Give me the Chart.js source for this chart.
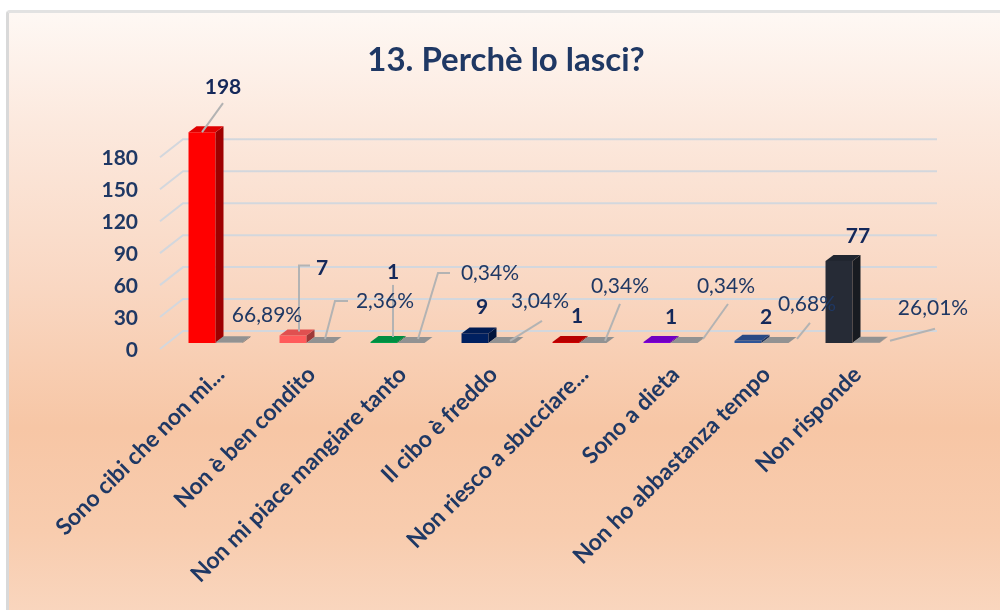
<!DOCTYPE html>
<html><head><meta charset="utf-8">
<script src="https://cdn.jsdelivr.net/npm/chart.js@4.4.1/dist/chart.umd.min.js"></script>
<style>
html,body{margin:0;padding:0;background:#fff;width:1000px;height:610px;overflow:hidden;}
#frame{position:absolute;left:6px;top:10px;width:1000px;height:610px;border-left:3px solid #d9d9d9;border-top:3px solid #e2e2e2;border-top-left-radius:4px;
background:linear-gradient(to bottom,#fef8f4 0%,#fce9de 18%,#f9d7c2 45%,#f7c6a5 68%,#f8ccae 85%,#f9d7c0 100%);}
canvas{position:absolute;left:0;top:0;}
</style></head><body>
<div id="frame"></div>
<canvas id="c" width="1000" height="610"></canvas>
<script>
// ---- data ----
const categories = ["Sono cibi che non mi...", "Non è ben condito", "Non mi piace mangiare tanto", "Il cibo è freddo", "Non riesco a sbucciare...", "Sono a dieta", "Non ho abbastanza tempo", "Non risponde"];
const counts = [198, 7, 1, 9, 1, 1, 2, 77];
const percents = [66.89, 2.36, 0.34, 3.04, 0.34, 0.34, 0.68, 26.01];
const yTicks = [0, 30, 60, 90, 120, 150, 180];
const chartTitle = "13. Perchè lo lasci?";

// ---- style ----
const barColors = ['#ff0000', '#ff5b5b', '#00a04a', '#002060', '#d00000', '#8000dc', '#2f5597', '#262b36'];
const percentColor = '#a6a6a6';
const navy = '#1f3864';
const DX = 8, DY = -6;
// label placement relative to bar top-face anchor: [dx, dy], leader polyline points
const countLabelPos = [
  {d:[17,-42], l:[[-4,3],[17,-26]]},
  {d:[25,-64], l:[[2,-1],[2,-67],[13,-67]]},
  {d:[5,-67],  l:[[5,-2],[5,-54]]},
  {d:[3,-23],  l:null},
  {d:[7,-23],  l:null},
  {d:[10,-22], l:null},
  {d:[14,-21], l:null},
  {d:[15,-22], l:null}
];
const pctLabelPos = [
  {d:[34,-24], l:null},
  {d:[61,-39], l:[[1,-1],[11,-39],[24,-39]]},
  {d:[75,-67], l:[[3,-1],[23,-67],[35,-67]]},
  {d:[34,-39], l:[[4,1],[36,-19]]},
  {d:[23,-54], l:[[8,1],[23,-36]]},
  {d:[38,-54], l:[[15,-1],[40,-36]]},
  {d:[28,-36], l:[[18,-1],[31,-17]]},
  {d:[63,-31], l:[[20,1],[65,-11]]}
];

function shade(hex, f){
  const n = parseInt(hex.slice(1),16);
  const r = n>>16, g = (n>>8)&255, b = n&255;
  return 'rgb(' + Math.round(r*f) + ',' + Math.round(g*f) + ',' + Math.round(b*f) + ')';
}

const titlePlugin = {
  id:'titleText',
  afterDraw(chart){
    const ctx = chart.ctx;
    ctx.save();
    ctx.font = 'bold 33px Lato';
    ctx.fillStyle = navy;
    ctx.textAlign = 'center';
    ctx.textBaseline = 'middle';
    ctx.fillText(chartTitle, 506, 60);
    ctx.restore();
  }
};

const wall = {
  id:'wall',
  beforeDatasetsDraw(chart){
    const {ctx, chartArea:{left,right}, scales:{y}} = chart;
    ctx.save();
    ctx.strokeStyle = '#d3d7dd';
    ctx.lineWidth = 2;
    yTicks.forEach(v => {
      const py = y.getPixelForValue(v);
      ctx.beginPath();
      ctx.moveTo(left-10, py+6);
      ctx.lineTo(left+13, py-12);
      ctx.lineTo(right+39, py-12);
      ctx.stroke();
    });
    ctx.restore();
  }
};

const bars3d = {
  id:'bars3d',
  afterDatasetsDraw(chart){
    const ctx = chart.ctx;
    chart.data.datasets.forEach((ds, di) => {
      const meta = chart.getDatasetMeta(di);
      meta.data.forEach((el, i) => {
        const {x, y, base, width} = el.getProps(['x','y','base','width'], true);
        const l = x - width/2, r = x + width/2;
        const col = Array.isArray(ds.backgroundColor) ? ds.backgroundColor[i] : ds.backgroundColor;
        ctx.save();
        ctx.fillStyle = shade(col, 0.62);
        ctx.beginPath();
        ctx.moveTo(r, y); ctx.lineTo(r+DX, y+DY); ctx.lineTo(r+DX, base+DY); ctx.lineTo(r, base);
        ctx.closePath(); ctx.fill();
        ctx.fillStyle = shade(col, 0.88);
        ctx.beginPath();
        ctx.moveTo(l, y); ctx.lineTo(r, y); ctx.lineTo(r+DX, y+DY); ctx.lineTo(l+DX, y+DY);
        ctx.closePath(); ctx.fill();
        ctx.restore();
      });
    });
  }
};

const valueLabels = {
  id:'valueLabels',
  afterDatasetsDraw(chart){
    const ctx = chart.ctx;
    const sets = [
      {di:0, pos:countLabelPos, font:'bold 21px Lato', color:'#14285a', text:i => String(counts[i])},
      {di:1, pos:pctLabelPos, font:'21px Lato', color:navy, text:i => percents[i].toFixed(2).replace('.', ',') + '%'}
    ];
    sets.forEach(s => {
      const meta = chart.getDatasetMeta(s.di);
      meta.data.forEach((el, i) => {
        const ax = el.x + DX/2, ay = el.y + DY/2;
        const p = s.pos[i];
        ctx.save();
        if (p.l){
          ctx.strokeStyle = '#b3b3b3';
          ctx.lineWidth = 2;
          ctx.beginPath();
          p.l.forEach((pt, k) => { if (k===0) ctx.moveTo(ax+pt[0], ay+pt[1]); else ctx.lineTo(ax+pt[0], ay+pt[1]); });
          ctx.stroke();
        }
        ctx.font = s.font;
        ctx.fillStyle = s.color;
        ctx.textAlign = 'center';
        ctx.textBaseline = 'middle';
        ctx.fillText(s.text(i), ax + p.d[0], ay + p.d[1]);
        ctx.restore();
      });
    });
  }
};

new Chart(document.getElementById('c'), {
  type:'bar',
  data:{
    labels: categories,
    datasets:[
      {label:'Risposte', data:counts, backgroundColor:barColors, borderWidth:0, categoryPercentage:0.593, barPercentage:1},
      {label:'Percentuale', data:percents.map(p => p/100), backgroundColor:percentColor, borderWidth:0, categoryPercentage:0.593, barPercentage:1}
    ]
  },
  options:{
    responsive:false,
    animation:false,
    devicePixelRatio:1,
    layout:{padding:{left:0, right:102, top:130, bottom:0}},
    plugins:{
      legend:{display:false},
      tooltip:{enabled:false},
      title:{display:false}
    },
    scales:{
      x:{
        grid:{display:false, drawTicks:false},
        border:{display:false},
        ticks:{autoSkip:false, minRotation:45, maxRotation:45, padding:18, labelOffset:5, color:navy, font:{family:'Lato', weight:'bold', size:23}},
        afterFit(s){ s.height = 267; }
      },
      y:{
        min:0, max:200,
        afterBuildTicks(s){ s.ticks = yTicks.map(v => ({value:v})); },
        grid:{display:false, drawTicks:false},
        border:{display:false},
        ticks:{padding:32, labelOffset:7, color:navy, font:{family:'Lato', weight:'bold', size:21}},
        afterFit(s){ s.width = 170; }
      }
    }
  },
  plugins:[wall, bars3d, valueLabels, titlePlugin]
});
</script>
</body></html>
